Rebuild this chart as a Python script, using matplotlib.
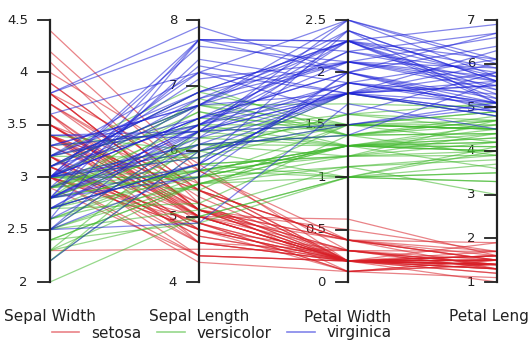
import numpy as np
import matplotlib
matplotlib.use("Agg")
from matplotlib import pyplot as plt
from matplotlib.lines import Line2D

# iris data, one entry per flower
sepal_length = [
    5.1, 4.9, 4.7, 4.6, 5.0, 5.4, 4.6, 5.0, 4.4, 4.9, 5.4, 4.8, 4.8, 4.3, 5.8, 5.7, 5.4, 5.1, 5.7, 5.1,
    5.4, 5.1, 4.6, 5.1, 4.8, 5.0, 5.0, 5.2, 5.2, 4.7, 4.8, 5.4, 5.2, 5.5, 4.9, 5.0, 5.5, 4.9, 4.4, 5.1,
    5.0, 4.5, 4.4, 5.0, 5.1, 4.8, 5.1, 4.6, 5.3, 5.0,
    7.0, 6.4, 6.9, 5.5, 6.5, 5.7, 6.3, 4.9, 6.6, 5.2, 5.0, 5.9, 6.0, 6.1, 5.6, 6.7, 5.6, 5.8, 6.2, 5.6,
    5.9, 6.1, 6.3, 6.1, 6.4, 6.6, 6.8, 6.7, 6.0, 5.7, 5.5, 5.5, 5.8, 6.0, 5.4, 6.0, 6.7, 6.3, 5.6, 5.5,
    5.5, 6.1, 5.8, 5.0, 5.6, 5.7, 5.7, 6.2, 5.1, 5.7,
    6.3, 5.8, 7.1, 6.3, 6.5, 7.6, 4.9, 7.3, 6.7, 7.2, 6.5, 6.4, 6.8, 5.7, 5.8, 6.4, 6.5, 7.7, 7.7, 6.0,
    6.9, 5.6, 7.7, 6.3, 6.7, 7.2, 6.2, 6.1, 6.4, 7.2, 7.4, 7.9, 6.4, 6.3, 6.1, 7.7, 6.3, 6.4, 6.0, 6.9,
    6.7, 6.9, 5.8, 6.8, 6.7, 6.7, 6.3, 6.5, 6.2, 5.9,
]
sepal_width = [
    3.5, 3.0, 3.2, 3.1, 3.6, 3.9, 3.4, 3.4, 2.9, 3.1, 3.7, 3.4, 3.0, 3.0, 4.0, 4.4, 3.9, 3.5, 3.8, 3.8,
    3.4, 3.7, 3.6, 3.3, 3.4, 3.0, 3.4, 3.5, 3.4, 3.2, 3.1, 3.4, 4.1, 4.2, 3.1, 3.2, 3.5, 3.6, 3.0, 3.4,
    3.5, 2.3, 3.2, 3.5, 3.8, 3.0, 3.8, 3.2, 3.7, 3.3,
    3.2, 3.2, 3.1, 2.3, 2.8, 2.8, 3.3, 2.4, 2.9, 2.7, 2.0, 3.0, 2.2, 2.9, 2.9, 3.1, 3.0, 2.7, 2.2, 2.5,
    3.2, 2.8, 2.5, 2.8, 2.9, 3.0, 2.8, 3.0, 2.9, 2.6, 2.4, 2.4, 2.7, 2.7, 3.0, 3.4, 3.1, 2.3, 3.0, 2.5,
    2.6, 3.0, 2.6, 2.3, 2.7, 3.0, 2.9, 2.9, 2.5, 2.8,
    3.3, 2.7, 3.0, 2.9, 3.0, 3.0, 2.5, 2.9, 2.5, 3.6, 3.2, 2.7, 3.0, 2.5, 2.8, 3.2, 3.0, 3.8, 2.6, 2.2,
    3.2, 2.8, 2.8, 2.7, 3.3, 3.2, 2.8, 3.0, 2.8, 3.0, 2.8, 3.8, 2.8, 2.8, 2.6, 3.0, 3.4, 3.1, 3.0, 3.1,
    3.1, 3.1, 2.7, 3.2, 3.3, 3.0, 2.5, 3.0, 3.4, 3.0,
]
petal_length = [
    1.4, 1.4, 1.3, 1.5, 1.4, 1.7, 1.4, 1.5, 1.4, 1.5, 1.5, 1.6, 1.4, 1.1, 1.2, 1.5, 1.3, 1.4, 1.7, 1.5,
    1.7, 1.5, 1.0, 1.7, 1.9, 1.6, 1.6, 1.5, 1.4, 1.6, 1.6, 1.5, 1.5, 1.4, 1.5, 1.2, 1.3, 1.4, 1.3, 1.5,
    1.3, 1.3, 1.3, 1.6, 1.9, 1.4, 1.6, 1.4, 1.5, 1.4,
    4.7, 4.5, 4.9, 4.0, 4.6, 4.5, 4.7, 3.3, 4.6, 3.9, 3.5, 4.2, 4.0, 4.7, 3.6, 4.4, 4.5, 4.1, 4.5, 3.9,
    4.8, 4.0, 4.9, 4.7, 4.3, 4.4, 4.8, 5.0, 4.5, 3.5, 3.8, 3.7, 3.9, 5.1, 4.5, 4.5, 4.7, 4.4, 4.1, 4.0,
    4.4, 4.6, 4.0, 3.3, 4.2, 4.2, 4.2, 4.3, 3.0, 4.1,
    6.0, 5.1, 5.9, 5.6, 5.8, 6.6, 4.5, 6.3, 5.8, 6.1, 5.1, 5.3, 5.5, 5.0, 5.1, 5.3, 5.5, 6.7, 6.9, 5.0,
    5.7, 4.9, 6.7, 4.9, 5.7, 6.0, 4.8, 4.9, 5.6, 5.8, 6.1, 6.4, 5.6, 5.1, 5.6, 6.1, 5.6, 5.5, 4.8, 5.4,
    5.6, 5.1, 5.1, 5.9, 5.7, 5.2, 5.0, 5.2, 5.4, 5.1,
]
petal_width = [
    0.2, 0.2, 0.2, 0.2, 0.2, 0.4, 0.3, 0.2, 0.2, 0.1, 0.2, 0.2, 0.1, 0.1, 0.2, 0.4, 0.4, 0.3, 0.3, 0.3,
    0.2, 0.4, 0.2, 0.5, 0.2, 0.2, 0.4, 0.2, 0.2, 0.2, 0.2, 0.4, 0.1, 0.2, 0.2, 0.2, 0.2, 0.1, 0.2, 0.2,
    0.3, 0.3, 0.2, 0.6, 0.4, 0.3, 0.2, 0.2, 0.2, 0.2,
    1.4, 1.5, 1.5, 1.3, 1.5, 1.3, 1.6, 1.0, 1.3, 1.4, 1.0, 1.5, 1.0, 1.4, 1.3, 1.4, 1.5, 1.0, 1.5, 1.1,
    1.8, 1.3, 1.5, 1.2, 1.3, 1.4, 1.4, 1.7, 1.5, 1.0, 1.1, 1.0, 1.2, 1.6, 1.5, 1.6, 1.5, 1.3, 1.3, 1.3,
    1.2, 1.4, 1.2, 1.0, 1.3, 1.2, 1.3, 1.3, 1.1, 1.3,
    2.5, 1.9, 2.1, 1.8, 2.2, 2.1, 1.7, 1.8, 1.8, 2.5, 2.0, 1.9, 2.1, 2.0, 2.4, 2.3, 1.8, 2.2, 2.3, 1.5,
    2.3, 2.0, 2.0, 1.8, 2.1, 1.8, 1.8, 1.8, 2.1, 1.6, 1.9, 2.0, 2.2, 1.5, 1.4, 2.3, 2.4, 1.8, 1.8, 2.1,
    2.4, 2.3, 1.9, 2.3, 2.5, 2.3, 1.9, 2.0, 2.3, 1.8,
]
species = ["setosa"] * 50 + ["versicolor"] * 50 + ["virginica"] * 50

axis_names = ["Sepal Width", "Sepal Length", "Petal Width", "Petal Length"]
axis_ticks = [
    [2, 2.5, 3, 3.5, 4, 4.5],
    [4, 5, 6, 7, 8],
    [0, 0.5, 1, 1.5, 2, 2.5],
    [1, 2, 3, 4, 5, 6, 7],
]
tick_labels = [
    ["2", "2.5", "3", "3.5", "4", "4.5"],
    ["4", "5", "6", "7", "8"],
    ["0", "0.5", "1", "1.5", "2", "2.5"],
    ["1", "2", "3", "4", "5", "6", "7"],
]
species_names = ["setosa", "versicolor", "virginica"]
species_colors = {"setosa": "#d81e26", "versicolor": "#40b82c", "virginica": "#1e22d8"}

plt.rcParams["font.family"] = ["DejaVu Sans"]

W, H = 528, 343
fig = plt.figure(figsize=(W / 100, H / 100), dpi=100)
ax = fig.add_axes([50 / W, (H - 282) / H, (497 - 50) / W, (282 - 20) / H])
ax.set_xlim(0, 3)
ax.set_ylim(0, 1)
ax.axis("off")

columns = [np.array(sepal_width), np.array(sepal_length), np.array(petal_width), np.array(petal_length)]
lims = [(t[0], t[-1]) for t in axis_ticks]
scaled = np.array([(c - lo) / (hi - lo) for c, (lo, hi) in zip(columns, lims)]).T

xs = np.arange(4)
for row, sp in zip(scaled, species):
    ax.plot(xs, row, color=species_colors[sp], alpha=0.55, lw=0.9, zorder=2, solid_capstyle="butt")

# axes, ticks and labels
unit_px = (497 - 50) / 3
tick_len = 12 / unit_px
for i, (ticks, labels, (lo, hi)) in enumerate(zip(axis_ticks, tick_labels, lims)):
    ax.plot([i, i], [0, 1], color="#222222", lw=1.6, zorder=3, clip_on=False)
    for t, lab in zip(ticks, labels):
        y = (t - lo) / (hi - lo)
        ax.plot([i - tick_len, i], [y, y], color="#222222", lw=1.3, zorder=3, clip_on=False)
        ax.annotate(lab, (i, y), xytext=(-22, 0), textcoords="offset pixels",
                    ha="right", va="center", fontsize=9.5, color="#222222", zorder=1,
                    annotation_clip=False)
    fig.text((50 + i * unit_px) / W, (H - 317) / H, axis_names[i], ha="center", va="center",
             fontsize=11, color="#222222")

handles = [Line2D([], [], color=species_colors[s], alpha=0.55, lw=1.2) for s in species_names]
fig.legend(handles, species_names, ncol=3, loc="center", bbox_to_anchor=(222 / W, (H - 333) / H),
           frameon=False, fontsize=11, handlelength=1.8, handletextpad=0.8, columnspacing=1.0,
           borderpad=0, labelcolor="#222222")

fig.savefig("out.png", dpi=100)
